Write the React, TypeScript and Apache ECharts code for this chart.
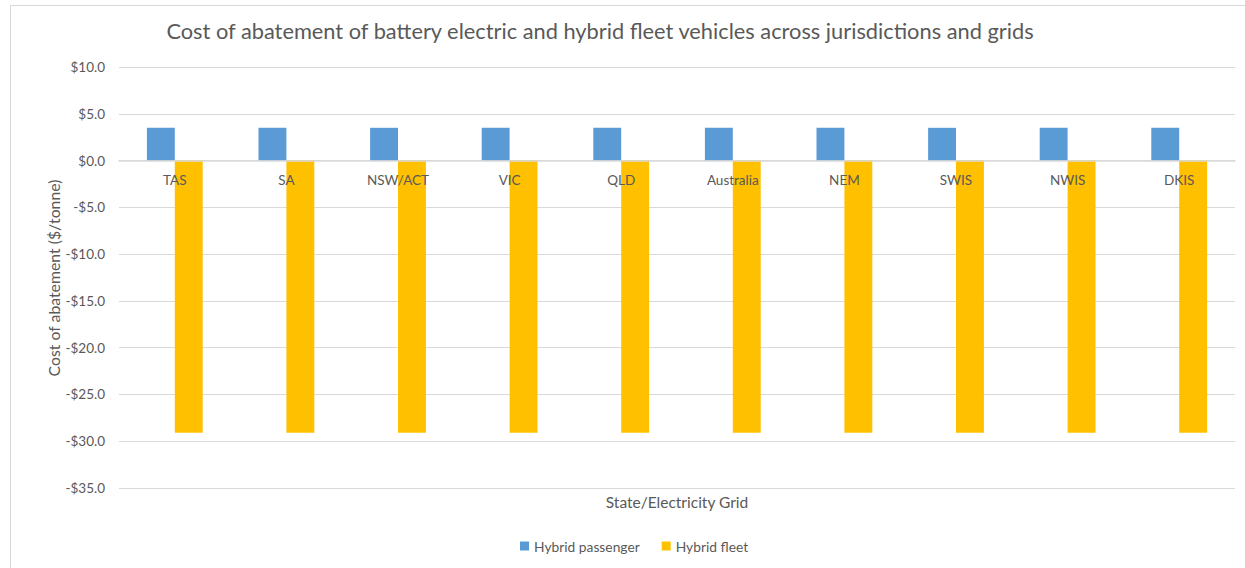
import React, { useEffect, useRef } from "react";
import * as echarts from "echarts";

// Jurisdictions and grids along the category axis
const regions = ["TAS", "SA", "NSW/ACT", "VIC", "QLD", "Australia", "NEM", "SWIS", "NWIS", "DKIS"];

// Cost of abatement ($/tonne) per region
const hybridPassenger = [3.5, 3.5, 3.5, 3.5, 3.5, 3.5, 3.5, 3.5, 3.5, 3.5];
const hybridFleet = [-29.1, -29.1, -29.1, -29.1, -29.1, -29.1, -29.1, -29.1, -29.1, -29.1];

// Value axis range
const yMin = -35;
const yMax = 10;
const yStep = 5;

const FONT = "Lato, 'Noto Sans', sans-serif";
const TEXT = "#595959";
const GRID = "#d9d9d9";

// Plot box
const GRID_TOP = 67;
const GRID_BOTTOM = 80;
const CHART_H = 568;

const fmtMoney = (v: number) => (v < 0 ? "-" : "") + "$" + Math.abs(v).toFixed(1);

export default function App() {
  const ref = useRef<HTMLDivElement>(null);

  useEffect(() => {
    if (!ref.current) return;
    const chart = echarts.init(ref.current, undefined, { renderer: "svg" });
    // lift the category axis from the bottom edge up to the zero line
    const plotH = CHART_H - GRID_TOP - GRID_BOTTOM;
    const zeroLift = (plotH * (0 - yMin)) / (yMax - yMin);
    chart.setOption({
      animation: false,
      backgroundColor: "#ffffff",
      textStyle: { fontFamily: FONT },
      graphic: [
        {
          type: "rect",
          silent: true,
          shape: { x: 10.5, y: 5.5, width: 1400, height: 800 },
          style: { fill: "none", stroke: GRID, lineWidth: 1 },
        },
        {
          type: "text",
          x: 600,
          y: 30,
          style: {
            text: "Cost of abatement of battery electric and hybrid fleet vehicles across jurisdictions and grids",
            fill: TEXT,
            font: `21.8px ${FONT}`,
            textAlign: "center",
            textVerticalAlign: "middle",
          },
        },
        {
          type: "text",
          x: 677,
          y: 502,
          style: {
            text: "State/Electricity Grid",
            fill: TEXT,
            font: `15.5px ${FONT}`,
            textAlign: "center",
            textVerticalAlign: "middle",
          },
        },
        {
          type: "text",
          x: 53,
          y: 278,
          rotation: Math.PI / 2,
          style: {
            text: "Cost of abatement ($/tonne)",
            fill: TEXT,
            font: `15.8px ${FONT}`,
            textAlign: "center",
            textVerticalAlign: "middle",
          },
        },
      ],
      legend: {
        left: 515,
        top: 534,
        icon: "rect",
        itemWidth: 9,
        itemHeight: 9,
        itemGap: 22,
        itemStyle: { borderWidth: 0 },
        textStyle: { color: TEXT, fontSize: 13.8, fontFamily: FONT },
        data: ["Hybrid passenger", "Hybrid fleet"],
      },
      grid: { left: 119, right: 10, top: GRID_TOP, bottom: GRID_BOTTOM },
      xAxis: {
        type: "category",
        data: regions,
        offset: -zeroLift,
        z: 10,
        axisLine: { onZero: false, lineStyle: { color: GRID, width: 1.5 } },
        axisTick: { show: false },
        axisLabel: { color: TEXT, fontSize: 13.5, margin: 12, fontFamily: FONT },
      },
      yAxis: {
        type: "value",
        min: yMin,
        max: yMax,
        interval: yStep,
        axisLine: { show: false },
        axisTick: { show: false },
        axisLabel: { color: TEXT, fontSize: 13.5, margin: 14, formatter: fmtMoney, fontFamily: FONT },
        splitLine: { lineStyle: { color: GRID, width: 1 } },
      },
      series: [
        {
          name: "Hybrid passenger",
          type: "bar",
          data: hybridPassenger,
          itemStyle: { color: "#5B9BD5" },
          barGap: "0%",
          barCategoryGap: "50%",
        },
        {
          name: "Hybrid fleet",
          type: "bar",
          data: hybridFleet,
          itemStyle: { color: "#FFC000" },
          barGap: "0%",
          barCategoryGap: "50%",
        },
      ],
    });
    return () => chart.dispose();
  }, []);

  return (
    <div
      ref={ref}
      style={{ position: "absolute", left: 0, top: 0, width: 1245, height: 568 }}
    />
  );
}
